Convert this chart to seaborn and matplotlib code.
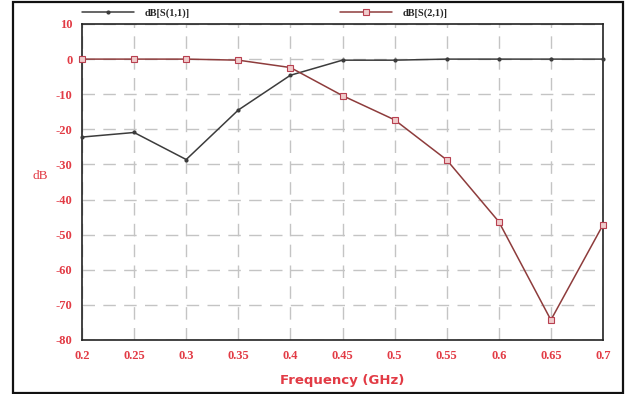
import matplotlib
matplotlib.use("Agg")
import matplotlib.pyplot as plt
from matplotlib.patches import Rectangle
from matplotlib.lines import Line2D
import seaborn as sns
import pandas as pd

freq = [0.2, 0.25, 0.3, 0.35, 0.4, 0.45, 0.5, 0.55, 0.6, 0.65, 0.7]
s11_db = [-22.2, -20.9, -28.6, -14.5, -4.6, -0.3, -0.3, 0.0, 0.0, 0.0, 0.0]
s21_db = [0.0, 0.0, 0.0, -0.3, -2.4, -10.4, -17.3, -28.7, -46.3, -74.3, -47.2]
x_ticks = [0.2, 0.25, 0.3, 0.35, 0.4, 0.45, 0.5, 0.55, 0.6, 0.65, 0.7]
x_tick_labels = ["0.2", "0.25", "0.3", "0.35", "0.4", "0.45", "0.5", "0.55", "0.6", "0.65", "0.7"]
y_ticks = [10, 0, -10, -20, -30, -40, -50, -60, -70, -80]
series_names = ["dB[S(1,1)]", "dB[S(2,1)]"]

sns.set_style("white")
plt.rcParams["font.family"] = ["Liberation Serif", "DejaVu Serif"]
plt.rcParams["axes.unicode_minus"] = False

RED = "#e23b45"
S11_COLOR = "#3c3c3c"
S21_COLOR = "#8e3c3c"

df = pd.DataFrame({"freq": freq, "s11": s11_db, "s21": s21_db})

fig = plt.figure(figsize=(6.26, 3.94), dpi=100)
ax = fig.add_axes([82 / 626, 1 - 340 / 394, (603 - 82) / 626, (340 - 24) / 394])

sns.lineplot(data=df, x="freq", y="s11", ax=ax, color=S11_COLOR, lw=1.1,
             marker="o", markersize=3, markeredgewidth=0, markerfacecolor=S11_COLOR,
             clip_on=False, zorder=4)
sns.lineplot(data=df, x="freq", y="s21", ax=ax, color=S21_COLOR, lw=1.1,
             marker="s", markersize=3.8, markeredgewidth=0.8, markeredgecolor="#b84050",
             markerfacecolor="#f0cccc", clip_on=False, zorder=5)

ax.set_xlim(0.2, 0.7)
ax.set_ylim(-80, 10)
ax.set_xticks(x_ticks)
ax.set_xticklabels(x_tick_labels)
ax.set_yticks(y_ticks)
ax.tick_params(axis="both", length=0, labelsize=9, labelcolor=RED, pad=7)
for lab in ax.get_xticklabels() + ax.get_yticklabels():
    lab.set_fontweight("bold")

ax.grid(True, color="#c4c4c4", linestyle=(0, (9, 6)), linewidth=1.0)
ax.set_axisbelow(True)
for sp in ax.spines.values():
    sp.set_color("#222222")
    sp.set_linewidth(1.2)

ax.set_xlabel("Frequency (GHz)", color=RED, fontsize=9.5, fontweight="bold",
              family="DejaVu Sans", labelpad=9)
ax.set_ylabel("dB", color=RED, fontsize=9.5, rotation=0, va="center")
ax.yaxis.set_label_coords(-0.08, 0.52)

# legend entries above the plot frame
h1 = Line2D([], [], color=S11_COLOR, lw=1.1, marker="o", markersize=3,
            markeredgewidth=0, markerfacecolor=S11_COLOR)
h2 = Line2D([], [], color=S21_COLOR, lw=1.1, marker="s", markersize=3.8,
            markeredgewidth=0.8, markeredgecolor="#b84050", markerfacecolor="#f0cccc")
leg_kw = dict(frameon=False, handlelength=5.0, handletextpad=1.0, borderpad=0,
              borderaxespad=0, prop={"size": 7.5, "weight": "bold"})
leg1 = ax.legend(handles=[h1], labels=[series_names[0]], loc="lower left",
                 bbox_to_anchor=(0.0, 1.02), **leg_kw)
ax.add_artist(leg1)
ax.legend(handles=[h2], labels=[series_names[1]], loc="lower left",
          bbox_to_anchor=(0.495, 1.02), **leg_kw)

# outer frame around the whole figure
fig.patches.append(Rectangle((13 / 626, 1 - 393 / 394), (623 - 13) / 626, (393 - 2) / 394,
                             transform=fig.transFigure, fill=False,
                             edgecolor="#111111", linewidth=1.6))

fig.savefig("out.png", dpi=100)
